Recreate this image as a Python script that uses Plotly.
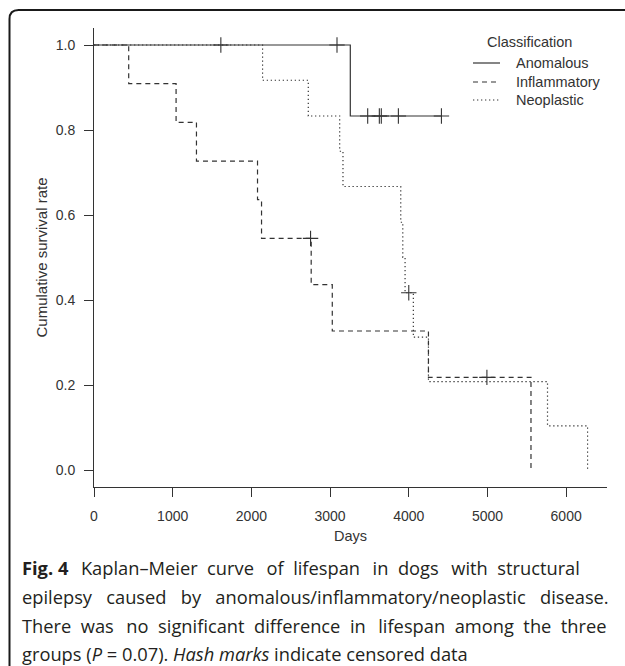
import plotly.graph_objects as go

# ---- data ----
anom_t = [0, 3257, 4415]
anom_s = [1.0, 0.833, 0.833]
anom_cens_t = [1612, 3088, 3478, 3626, 3651, 3868, 4415]
anom_cens_s = [1.0, 1.0, 0.833, 0.833, 0.833, 0.833, 0.833]

infl_t = [0, 441, 1043, 1302, 2078, 2129, 2760, 3028, 4250, 5553]
infl_s = [1.0, 0.909, 0.818, 0.727, 0.636, 0.545, 0.436, 0.327, 0.218, 0.0]
infl_cens_t = [2752, 4993]
infl_cens_s = [0.545, 0.218]

neo_t = [0, 2142, 2723, 3122, 3164, 3898, 3924, 3953, 4058, 4250, 5763, 6272]
neo_s = [1.0, 0.917, 0.833, 0.750, 0.667, 0.583, 0.500, 0.417, 0.3125, 0.208, 0.104, 0.0]
neo_cens_t = [4000]
neo_cens_s = [0.417]

group_names = ["Anomalous", "Inflammatory", "Neoplastic"]
y_ticks = [0.0, 0.2, 0.4, 0.6, 0.8, 1.0]
x_ticks = [0, 1000, 2000, 3000, 4000, 5000, 6000]

W, H = 625, 666
ML, MR, MT, MB = 94, 18, 28, 179
PW, PH = W - ML - MR, H - MT - MB

def px(x):
    return (x - ML) / PW

def py(y):
    return (H - MB - y) / PH

INK = "#333333"
FONT = "Liberation Sans, Arial, Helvetica, sans-serif"
DASHES = ["solid", "5px,4px", "1.3px,2.7px"]

fig = go.Figure()

series = [
    (anom_t, anom_s, anom_cens_t, anom_cens_s),
    (infl_t, infl_s, infl_cens_t, infl_cens_s),
    (neo_t, neo_s, neo_cens_t, neo_cens_s),
]
for name, dash, (t, s, ct, cs) in zip(group_names, DASHES, series):
    fig.add_trace(go.Scatter(
        x=t, y=s, mode="lines", name=name, showlegend=False,
        line=dict(color=INK, width=1.2, dash=dash, shape="hv"),
    ))
for name, (t, s, ct, cs) in zip(group_names, series):
    fig.add_trace(go.Scatter(
        x=ct, y=cs, mode="markers", showlegend=False, name=name + " (censored)",
        marker=dict(symbol="cross-thin", size=11, line=dict(color=INK, width=1.1)),
    ))

# legend (drawn like the R legend)
LEG_FS = 14.5
fig.add_annotation(text="Classification", xref="paper", yref="paper",
                   x=px(529), y=py(42), xanchor="center", yanchor="middle",
                   showarrow=False, font=dict(size=LEG_FS, color=INK))
for name, dash, yy in zip(group_names, DASHES, [63, 82, 100]):
    fig.add_shape(type="line", xref="paper", yref="paper",
                  x0=px(473), x1=px(500), y0=py(yy), y1=py(yy),
                  line=dict(color=INK, width=1.2, dash=dash))
    fig.add_annotation(text=name, xref="paper", yref="paper",
                       x=px(514), y=py(yy), xanchor="left", yanchor="middle",
                       showarrow=False, font=dict(size=LEG_FS, color=INK))

# frame (top + left edge with rounded corner)
r = 9
frame = (f"M {px(9.5)} {py(668)} L {px(9.5)} {py(10 + r)} "
         f"Q {px(9.5)} {py(10)} {px(9.5 + r)} {py(10)} L {px(626)} {py(10)}")
fig.add_shape(type="path", path=frame, xref="paper", yref="paper",
              line=dict(color="#1a1a1a", width=2))

# caption (extra spaces imitate the justified text)
NB = "\u00a0"
TH = "\u2009"
cap_font = "Open Sans, Noto Sans, sans-serif"
cap_lines = [
    ["<b>Fig. 4</b>", "Kaplan–Meier", "curve", "of", "lifespan", "in", "dogs", "with", "structural"],
    ["epilepsy", "caused", "by", "anomalous/inflammatory/neoplastic", "disease."],
    ["There", "was", "no", "significant", "difference", "in", "lifespan", "among", "the", "three"],
    ["groups", "(<i>P</i> = 0.07).", "<i>Hash", "marks</i>", "indicate", "censored", "data"],
]
extra_nb = [1, 2, 1, 0]
extra_th = [[0, 2, 4, 6], [], [1, 5], []]
cap_y = [567, 596, 625, 653]
for words, ex, ths, yy in zip(cap_lines, extra_nb, extra_th, cap_y):
    line = words[0]
    for i, w in enumerate(words[1:]):
        line += " " + NB * ex + (TH if i in ths else "") + w
    fig.add_annotation(text=line, xref="paper", yref="paper",
                       x=px(20), y=py(yy), xanchor="left", yanchor="middle",
                       showarrow=False,
                       font=dict(family=cap_font, size=18.3, color="#231f20"))

fig.update_layout(
    width=W, height=H,
    margin=dict(l=ML, r=MR, t=MT, b=MB),
    paper_bgcolor="white", plot_bgcolor="white",
    font=dict(family=FONT, size=14, color=INK),
    showlegend=False,
    xaxis=dict(
        range=[0, 6519], tickvals=x_ticks, ticks="outside", ticklen=9,
        tickcolor=INK, showline=True, linecolor=INK, linewidth=1,
        showgrid=False, zeroline=False, ticklabelstandoff=7,
        title=dict(text="Days", standoff=8, font=dict(size=14.5)),
    ),
    yaxis=dict(
        range=[-0.04, 1.04], tickvals=y_ticks, tickformat=".1f",
        ticks="outside", ticklen=9, tickcolor=INK, showline=True,
        linecolor=INK, linewidth=1, showgrid=False, zeroline=False,
        ticklabelstandoff=6,
        title=dict(text="Cumulative survival rate", standoff=4,
                   font=dict(size=15)),
    ),
)

fig.write_html("out.html", config={"displayModeBar": False},
               post_script="document.body.style.margin='0';")
